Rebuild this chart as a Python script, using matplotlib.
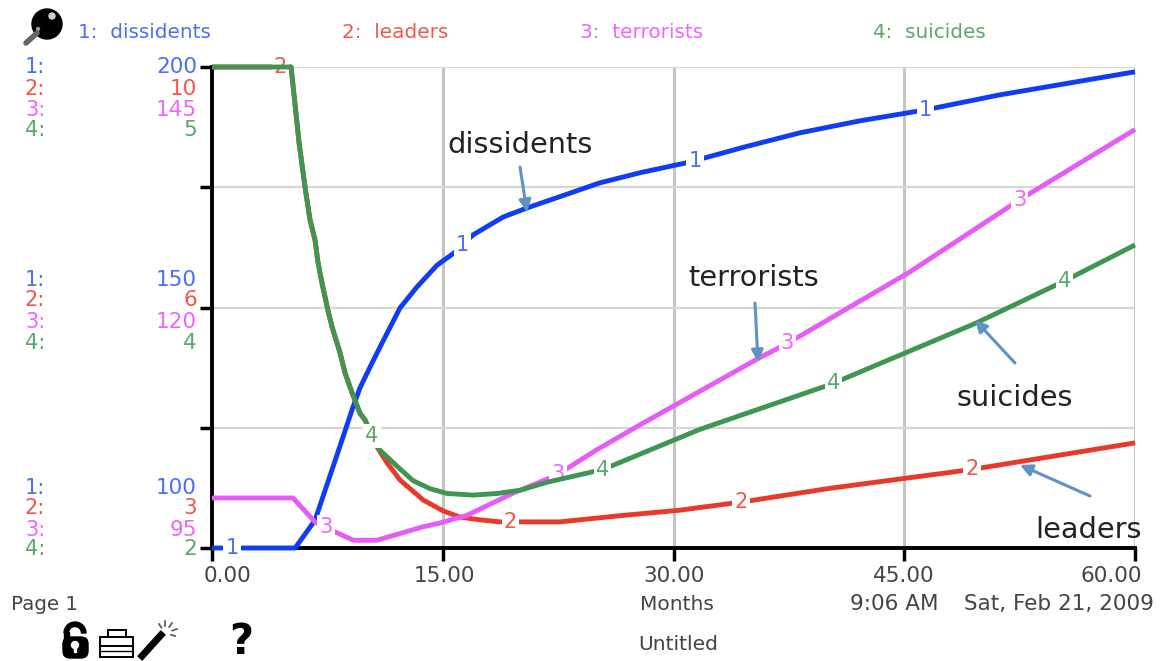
import numpy as np
import matplotlib
matplotlib.use("Agg")
import matplotlib.pyplot as plt
from matplotlib.patches import Circle, Rectangle, FancyBboxPatch, Wedge

# values, each series in its own units
dissidents_t = [0, 5.4, 5.92, 6.7, 8.52, 9.1, 9.62, 10.27, 11.05, 12.22, 13.33, 14.63, 15.8, 16.97, 18.92, 20.48, 25.2, 27.8, 31.0, 34.65, 38.2, 42.1, 46.4, 51.2, 60]
dissidents = [100, 100, 102.3, 105.8, 123.1, 128.7, 133.3, 137.6, 142.6, 149.9, 154.3, 158.8, 161.5, 165.1, 168.8, 170.7, 175.9, 178, 180.2, 183.4, 186.3, 188.8, 191.1, 194.2, 199]

leaders_t = [0, 5.14, 5.66, 6.05, 6.37, 6.7, 6.89, 7.15, 7.54, 7.8, 8.32, 8.65, 9.1, 9.62, 9.95, 10.4, 10.73, 11.38, 12.22, 13.72, 15.02, 16.12, 17.42, 18.72, 19.44, 22.6, 26.5, 30.4, 34.45, 40.2, 49.3, 60]
leaders = [10, 10, 8.89, 8.25, 7.77, 7.48, 7.16, 6.86, 6.46, 6.22, 5.84, 5.55, 5.26, 4.96, 4.86, 4.64, 4.47, 4.24, 3.99, 3.70, 3.54, 3.45, 3.41, 3.38, 3.38, 3.38, 3.47, 3.55, 3.67, 3.87, 4.14, 4.53]

terrorists_t = [0, 5.27, 6.7, 8.1, 9.2, 10.7, 12.0, 13.7, 14.82, 16.58, 19.57, 22.43, 25, 27.82, 35.62, 37.44, 45.37, 52.5, 60]
terrorists = [100.2, 100.2, 97.7, 96.6, 95.8, 95.8, 96.4, 97.2, 97.6, 98.4, 100.7, 102.6, 105.2, 107.8, 114.8, 116.3, 123.7, 131.2, 138.5]

suicides_t = [0, 5.14, 5.66, 6.05, 6.37, 6.7, 6.89, 7.15, 7.54, 7.8, 8.32, 8.65, 9.1, 9.62, 9.95, 10.4, 10.92, 12.03, 13.07, 14.17, 15.28, 16.97, 18.53, 20.02, 21.78, 25.42, 31.72, 40.2, 49.6, 55.3, 60]
suicides = [5, 5, 4.53, 4.25, 4.05, 3.92, 3.78, 3.65, 3.48, 3.38, 3.22, 3.09, 2.97, 2.84, 2.80, 2.70, 2.61, 2.51, 2.42, 2.37, 2.34, 2.33, 2.34, 2.36, 2.41, 2.49, 2.74, 3.02, 3.40, 3.66, 3.89]

names = ["dissidents", "leaders", "terrorists", "suicides"]
y_ranges = [(100, 200), (3, 10), (95, 145), (2, 5)]
mid_labels = ["150", "6", "120", "4"]
low_labels = ["100", "3", "95", "2"]
high_labels = ["200", "10", "145", "5"]
label_months = [[1.3, 16.3, 31.4, 46.4], [4.45, 19.4, 34.4, 49.4], [7.4, 22.5, 37.4, 52.5], [10.4, 25.4, 40.4, 55.4]]
x_ticks = [0, 15, 30, 45, 60]
x_labels = ["0.00", "15.00", "30.00", "45.00", "60.00"]

line_colors = ["#0f3cf5", "#e8392c", "#e65cf7", "#3f9552"]
text_colors = ["#4a6dff", "#f4564e", "#f064ff", "#5aa76c"]
series = [(dissidents_t, dissidents), (leaders_t, leaders), (terrorists_t, terrorists), (suicides_t, suicides)]

W, H = 1161, 661
fig = plt.figure(figsize=(W / 100, H / 100), dpi=100)
plt.rcParams['font.family'] = 'DejaVu Sans'

L, R, T, B = 212, 1135, 67, 548
rect = [L / W, 1 - B / H, (R - L) / W, (B - T) / H]
ax = fig.add_axes(rect)
ax.set_xlim(0, 60)
ax.set_ylim(0, 4)
ax.set_xticks(x_ticks)
ax.set_xticklabels([])
ax.set_yticks([0, 1, 2, 3, 4])
ax.set_yticklabels([])
ax.tick_params(axis='x', length=9, width=2.5, color="black")
ax.tick_params(axis='y', length=9, width=2.5, color="black")
ax.grid(True, color="#d6d6d6", linewidth=1.6)
for g in ax.get_xgridlines():
    g.set_linewidth(2.2)
    g.set_color("#c4c4c4")
for s in ['top', 'right']:
    ax.spines[s].set_visible(False)
for s in ['left', 'bottom']:
    ax.spines[s].set_linewidth(2.8)
ax.set_axisbelow(True)

# one hidden axis per series so each uses its own scale
for i, (t, v) in enumerate(series):
    tw = fig.add_axes(rect, sharex=ax)
    tw.set_ylim(*y_ranges[i])
    tw.axis('off')
    tw.patch.set_alpha(0)
    tw.set_zorder(2 + i)
    tw.plot(t, v, color=line_colors[i], linewidth=3.5, solid_capstyle='butt', clip_on=False)
    for m in label_months[i]:
        tw.text(m, np.interp(m, t, v), str(i + 1), color=text_colors[i], fontsize=15,
                ha='center', va='center', clip_on=False,
                bbox=dict(facecolor='white', edgecolor='none', pad=1.5))

# overlay in picture pixels for the surrounding text and icons
ov = fig.add_axes([0, 0, 1, 1])
ov.set_xlim(0, W)
ov.set_ylim(H, 0)
ov.axis('off')
ov.patch.set_alpha(0)
ov.set_zorder(10)

for i, x in enumerate([78, 342, 580, 873]):
    ov.text(x, 33, f"{i + 1}:  {names[i]}", color=text_colors[i], fontsize=14.4, ha='left', va='center')

rows = [([67, 89, 110, 130], high_labels), ([280, 300, 322, 343], mid_labels), ([488, 508, 530, 549], low_labels)]
for ys, labels in rows:
    for i, y in enumerate(ys):
        ov.text(25, y, f"{i + 1}:", color=text_colors[i], fontsize=15, ha='left', va='center')
        ov.text(197, y, labels[i], color=text_colors[i], fontsize=15.5, ha='right', va='center')

# x tick labels: the end ones sit inside the plot edges as in the reference
for x, lab, ha in zip([204, 444, 674, 904, 1142], x_labels, ['left', 'center', 'center', 'center', 'right']):
    ov.text(x, 576, lab, color="#444444", fontsize=15.5, ha=ha, va='center')

ov.text(11, 604, "Page 1", color="#444444", fontsize=14.3, va='center')
ov.text(677, 604, "Months", color="#444444", fontsize=14.5, ha='center', va='center')
ov.text(894, 604, "9:06 AM", color="#444444", fontsize=15.5, ha='center', va='center')
ov.text(1059, 604, "Sat, Feb 21, 2009", color="#444444", fontsize=15.5, ha='center', va='center')
ov.text(678, 644, "Untitled", color="#444444", fontsize=14.6, ha='center', va='center')

# hand-placed callouts
callouts = [("dissidents", 447, 145, (520, 167), (527, 212)),
            ("terrorists", 688, 278, (755, 303), (758, 362)),
            ("suicides", 956, 398, (1015, 363), (975, 320)),
            ("leaders", 1035, 530, (1090, 496), (1020, 465))]
for name, x, y, start, end in callouts:
    ov.text(x, y, name, color="#222222", fontsize=20.7, ha='left', va='center')
    ov.annotate("", xy=end, xytext=start,
                arrowprops=dict(arrowstyle="-|>,head_width=0.35,head_length=0.7", color="#5f93c6", linewidth=2.2, shrinkA=0, shrinkB=0))

# magnifier icon
ov.plot([37, 26], [33, 43], color="#666666", linewidth=4, solid_capstyle='round')
ov.add_patch(Circle((47, 24), 15, color="black"))
ov.add_patch(Circle((52, 16), 3, color="#cccccc"))
ov.add_patch(Circle((38, 29), 1.5, color="#999999"))

# lock
ov.add_patch(Wedge((75, 633), 11, 180, 360, width=4.5, color="black"))
ov.add_patch(Rectangle((64, 632), 4.5, 6, color="black"))
ov.add_patch(FancyBboxPatch((63, 637), 25, 21, boxstyle="round,pad=0,rounding_size=7", color="black"))
ov.add_patch(Circle((75, 645), 3.5, color="white"))
ov.add_patch(Rectangle((74, 646), 2.2, 6, color="white"))

# printer
ov.add_patch(Rectangle((108, 630), 18, 8, facecolor="white", edgecolor="black", linewidth=1.4))
ov.add_patch(Rectangle((100, 637), 33, 20, facecolor="white", edgecolor="black", linewidth=1.4))
ov.plot([100, 133], [646, 646], color="black", linewidth=1.4)
ov.plot([100, 133], [651, 651], color="black", linewidth=1.0)

# wand
ov.plot([142, 161], [656, 635], color="black", linewidth=5)
for dx, dy in [(0, -12), (7, -10), (12, -4), (10, 3), (-6, -9)]:
    ov.plot([165 + dx * 0.6, 165 + dx], [633 + dy * 0.6, 633 + dy], color="#555555", linewidth=1.2)

ov.text(241, 642, "?", color="black", fontsize=30, fontweight='bold', ha='center', va='center')

fig.savefig("out.png", dpi=100)
